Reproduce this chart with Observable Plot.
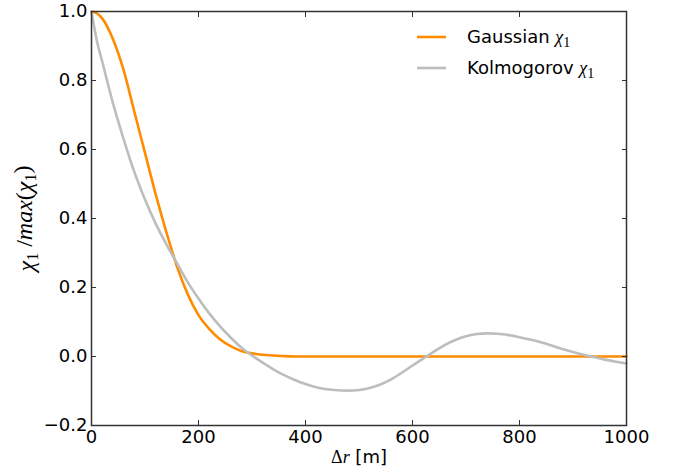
<!DOCTYPE html>
<html><head><meta charset="utf-8">
<script src="https://cdn.jsdelivr.net/npm/d3@7"></script>
<script src="https://cdn.jsdelivr.net/npm/@observablehq/plot@0.6"></script>
<style>body{margin:0;background:#fff} #chart svg{display:block}</style>
</head><body><div id="chart"></div>
<script>
// distance Δr [m]
const r = [0,10,20,40,60,80,100,120,140,160,180,200,220,240,260,280,300,320,340,360,380,400,420,440,460,480,500,520,540,560,580,600,620,640,660,680,700,720,740,760,780,800,820,840,860,880,900,920,940,960,980,1000];
// Gaussian χ1 (normalised)
const gaussian = [1.0,0.995,0.98,0.92,0.83,0.71,0.59,0.47,0.36,0.26,0.18,0.12,0.08,0.05,0.03,0.016,0.009,0.005,0.003,0.001,0,0,0,0,0,0,0,0,0,0,0,0,0,0,0,0,0,0,0,0,0,0,0,0,0,0,0,0,0,0,0,0];
// Kolmogorov χ1 (normalised)
const kolmogorov = [1.0,0.915,0.855,0.735,0.63,0.535,0.455,0.385,0.325,0.27,0.215,0.168,0.125,0.088,0.055,0.026,0.003,-0.018,-0.037,-0.054,-0.068,-0.08,-0.089,-0.095,-0.098,-0.099,-0.097,-0.091,-0.081,-0.066,-0.047,-0.026,-0.006,0.014,0.033,0.048,0.059,0.065,0.067,0.066,0.062,0.056,0.049,0.041,0.032,0.022,0.013,0.005,-0.002,-0.009,-0.015,-0.02];
const xTicks = [0,200,400,600,800,1000];
const yTicks = [-0.2,0,0.2,0.4,0.6,0.8,1.0];
const seriesNames = ["Gaussian", "Kolmogorov"];
const seriesColors = ["#ff8c00", "#bdbdbd"];

const gData = r.map((d,i)=>({r:d, v:gaussian[i]}));
const kData = r.map((d,i)=>({r:d, v:kolmogorov[i]}));
const fmt = d => d.toFixed(1).replace("-", "\u2212");

const plot = Plot.plot({
  width:687, height:475, marginLeft:91, marginRight:61, marginTop:11, marginBottom:50,
  style:{fontFamily:"'DejaVu Sans'", fontSize:"18px", color:"#000", background:"#fff"},
  x:{domain:[0,1000]}, y:{domain:[-0.2,1.0]},
  marks:[
    Plot.line(gData, {x:"r", y:"v", stroke:seriesColors[0], strokeWidth:2.6, curve:"monotone-x"}),
    Plot.line(kData, {x:"r", y:"v", stroke:seriesColors[1], strokeWidth:2.6, curve:"monotone-x"}),
    Plot.frame({stroke:"#333", strokeWidth:1.5}),
    Plot.axisX(xTicks, {anchor:"bottom", tickSize:-5, tickPadding:10, label:null, tickFormat:d=>String(d), fontSize:18, stroke:"#333"}),
    Plot.axisX(xTicks, {anchor:"top", tickSize:-5, tickFormat:()=>"", label:null, stroke:"#333"}),
    Plot.axisY(yTicks, {anchor:"left", tickSize:-5, tickPadding:9, label:null, tickFormat:fmt, fontSize:18, stroke:"#333"}),
    Plot.axisY(yTicks, {anchor:"right", tickSize:-5, tickFormat:()=>"", label:null, stroke:"#333"}),
    Plot.text(["Δr [m]"], {frameAnchor:"bottom", dy:37, fontSize:18, className:"xlab"}),
    Plot.text(["χ1 /max(χ1)"], {frameAnchor:"left", dx:-65, rotate:-90, textAnchor:"middle", fontSize:24, className:"ylab"})
  ]
});
document.getElementById("chart").appendChild(plot);
const svg = d3.select(plot);

function fill(textSel, segs){
  textSel.text(null);
  for (const [t, st] of segs){
    const ts = textSel.append("tspan").text(t);
    if (st.serif) ts.attr("font-family","'Liberation Serif'");
    if (st.italic) ts.attr("font-style","italic");
    if (st.sub) ts.attr("font-size", st.sub).attr("dy", "0.25em");
    if (st.up) ts.attr("dy", "-0.25em");
  }
}
fill(svg.select(".ylab text"), [
  ["χ",{serif:1,italic:1}],["1",{serif:1,sub:"16px"}],[" /",{serif:1,up:1}],["max",{serif:1,italic:1}],["(",{serif:1}],["χ",{serif:1,italic:1}],["1",{serif:1,sub:"16px"}],[")",{serif:1,up:1}]
]);
fill(svg.select(".xlab text"), [
  ["Δ",{serif:1}],["r",{serif:1,italic:1}],[" [m]",{}]
]);

// legend
const lg = svg.append("g").attr("font-family","'DejaVu Sans'").attr("font-size",18).attr("text-anchor","start");
seriesNames.forEach((n,i)=>{
  const y = 37 + i*31;
  lg.append("line").attr("x1",417).attr("x2",446).attr("y1",y).attr("y2",y)
    .attr("stroke",seriesColors[i]).attr("stroke-width",2.6);
  const t = lg.append("text").attr("x",467).attr("y",y+6);
  fill(t, [[n+" ",{}],["χ",{serif:1,italic:1}],["1",{serif:1,sub:"14px"}]]);
});
</script></body></html>
